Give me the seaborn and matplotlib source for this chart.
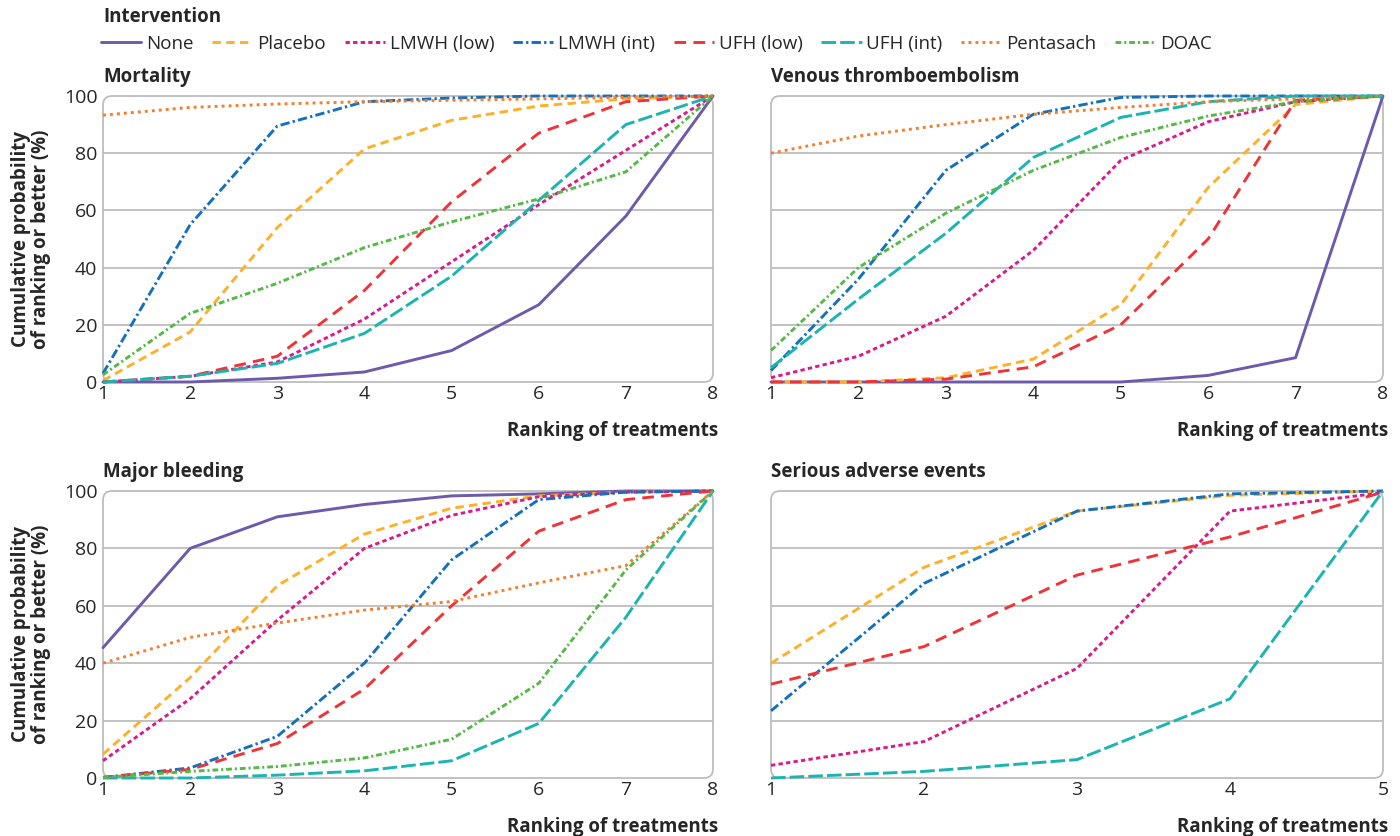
import matplotlib
matplotlib.use("Agg")
import matplotlib.pyplot as plt
from matplotlib.lines import Line2D
from matplotlib.patches import FancyBboxPatch
import seaborn as sns
import pandas as pd

sns.set_style("white")
plt.rcParams['font.family'] = ['Open Sans', 'DejaVu Sans']

treatments = ["None", "Placebo", "LMWH (low)", "LMWH (int)", "UFH (low)", "UFH (int)", "Pentasach", "DOAC"]
colors = ["#6E5AAA", "#FDB02A", "#D81B8C", "#1570BC", "#EE3439", "#1BB4B1", "#F47E2E", "#55B847"]
dash_styles = ["", (2.9, 1.8), (1.5, 1.1), (3.2, 1.1, 0.8, 1.1), (4, 2.5), (5, 1.4), (1, 1.4), (2, 1, 0.7, 1)]

ranks8 = [1, 2, 3, 4, 5, 6, 7, 8]
ranks5 = [1, 2, 3, 4, 5]

# cumulative probabilities (%)
mortality = {
    "None":       [0, 0, 1.3, 3.5, 11, 27, 58, 100],
    "Placebo":    [0.5, 17.5, 54, 81.5, 91.5, 96.5, 99, 100],
    "LMWH (low)": [0, 2, 7, 22, 42, 62, 81, 100],
    "LMWH (int)": [3, 55, 89.5, 98, 99.3, 100, 100, 100],
    "UFH (low)":  [0, 2, 9, 32, 63, 87, 98, 100],
    "UFH (int)":  [0, 2, 6.5, 17, 37, 63.5, 90, 100],
    "Pentasach":  [93.3, 96, 97.2, 98, 98.5, 99, 99.5, 100],
    "DOAC":       [2.5, 24, 34.5, 47, 56, 64, 73.5, 100],
}
vte = {
    "None":       [0, 0, 0, 0, 0, 2.3, 8.5, 100],
    "Placebo":    [0, 0, 1.5, 8, 27, 68, 97, 100],
    "LMWH (low)": [1.5, 9, 23, 46, 77.5, 91, 98, 100],
    "LMWH (int)": [4, 36, 74, 93.6, 99.5, 100, 100, 100],
    "UFH (low)":  [0, 0, 1, 5.3, 20, 50, 98.5, 100],
    "UFH (int)":  [5, 29, 52, 78.5, 92.5, 98, 100, 100],
    "Pentasach":  [80, 86, 90, 93.6, 96, 98, 99, 100],
    "DOAC":       [11, 40, 59, 74, 85.5, 93, 98, 100],
}
bleeding = {
    "None":       [45.4, 80, 91, 95.3, 98.3, 99, 100, 100],
    "Placebo":    [8.3, 35, 67, 85, 94, 98.3, 99.6, 100],
    "LMWH (low)": [6, 27.6, 55, 80, 91.5, 98, 99.6, 100],
    "LMWH (int)": [0.2, 3.5, 14.5, 40, 76, 97, 99.6, 100],
    "UFH (low)":  [0.2, 3, 12, 31, 60, 86, 97, 100],
    "UFH (int)":  [0, 0, 1, 2.5, 6, 19, 56, 100],
    "Pentasach":  [40, 49, 54, 58.5, 61.5, 68, 74, 100],
    "DOAC":       [0.2, 2.3, 4, 7, 13.5, 33, 72.5, 100],
}
adverse = {
    "Placebo":    [40, 73.4, 93, 98.5, 100],
    "LMWH (low)": [4.4, 12.7, 38.2, 93, 99.4],
    "LMWH (int)": [23.4, 67.8, 93, 99, 100],
    "UFH (low)":  [32.7, 45.8, 70.7, 84, 99.6],
    "UFH (int)":  [0, 2.3, 6.4, 27.6, 100],
}

panels = [
    ("Mortality", ranks8, mortality),
    ("Venous thromboembolism", ranks8, vte),
    ("Major bleeding", ranks8, bleeding),
    ("Serious adverse events", ranks5, adverse),
]

palette = dict(zip(treatments, colors))
dashes = dict(zip(treatments, dash_styles))

W, H = 1400, 836
fig = plt.figure(figsize=(14, 8.36), dpi=100)

# axes boxes in pixels: left, top, right, bottom
boxes = [(103, 96, 713, 382), (771, 96, 1383, 382),
         (103, 491, 713, 778), (771, 491, 1383, 778)]

grey = "#BDBDBD"
for i, ((title, ranks, series), (l, t, r, b)) in enumerate(zip(panels, boxes)):
    ax = fig.add_axes([l / W, 1 - b / H, (r - l) / W, (b - t) / H])
    ax.set_facecolor("none")
    rows = []
    for name, vals in series.items():
        for x, v in zip(ranks, vals):
            rows.append({"Intervention": name, "rank": x, "prob": v})
    df = pd.DataFrame(rows)
    order = [tr for tr in treatments if tr in series]
    sns.lineplot(data=df, x="rank", y="prob", hue="Intervention", style="Intervention",
                 hue_order=order, style_order=order, palette=palette, dashes=dashes,
                 lw=2.1, legend=False, ax=ax, clip_on=False, zorder=3)

    ax.set_xlim(ranks[0], ranks[-1])
    ax.set_ylim(0, 100)
    for s in ax.spines.values():
        s.set_visible(False)
    for y in [20, 40, 60, 80]:
        ax.axhline(y, color=grey, lw=1.3, zorder=1)
    wpx, hpx = r - l, b - t
    frame = FancyBboxPatch((0, 0), 1, 1, boxstyle="round,pad=0,rounding_size=%f" % (9 / wpx),
                           mutation_aspect=wpx / hpx, transform=ax.transAxes,
                           fill=False, ec=grey, lw=1.3, clip_on=False, zorder=2)
    ax.add_patch(frame)

    ax.set_xticks(ranks)
    ax.tick_params(axis="x", direction="in", length=5, width=1, color=grey,
                   labelsize=14, pad=2)
    xt = ax.xaxis.get_major_ticks()
    xt[0].tick1line.set_visible(False)
    xt[-1].tick1line.set_visible(False)
    ax.set_yticks([0, 20, 40, 60, 80, 100])
    ax.tick_params(axis="y", length=0, labelsize=14, pad=4)
    if i % 2 == 1:
        ax.set_yticklabels([])
        ax.set_ylabel("")
    else:
        ax.set_ylabel("Cumulative probability\nof ranking or better (%)",
                      fontsize=13.5, fontweight="bold", linespacing=1.0)
        ax.yaxis.set_label_coords(-0.085, 0.5)

    ax.set_xlabel("Ranking of treatments", fontsize=13.5, fontweight="bold", ha="right")
    ax.xaxis.set_label_coords(1.008, -0.135)
    ax.text(0, 1 + 19 / hpx, title, transform=ax.transAxes, ha="left", va="center",
            fontsize=13.5, fontweight="bold")

fig.text(103 / W, 1 - 17 / H, "Intervention", ha="left", va="center",
         fontsize=13.5, fontweight="bold")
handles = [Line2D([], [], color=c, lw=2.1, ls=(0, d) if d else "-")
           for c, d in zip(colors, dash_styles)]
fig.legend(handles, treatments, loc="center left", bbox_to_anchor=(101 / W, 1 - 44 / H),
           ncol=8, frameon=False, fontsize=13.5, handlelength=2.15, handletextpad=0.25,
           columnspacing=1.0, borderaxespad=0, borderpad=0)

fig.savefig("out.png", dpi=100)
